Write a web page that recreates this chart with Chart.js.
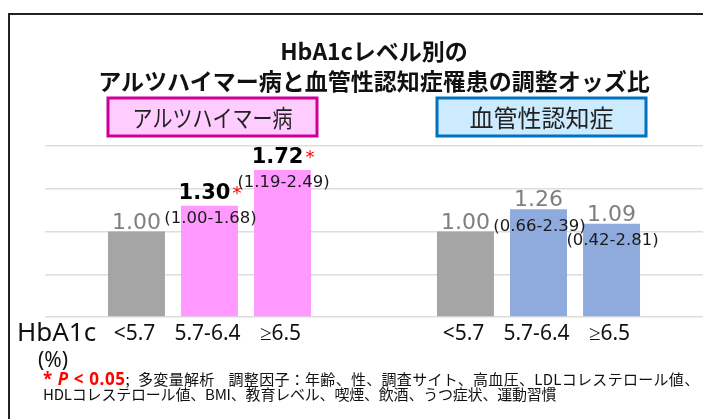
<!DOCTYPE html>
<html>
<head>
<meta charset="utf-8">
<script src="https://cdn.jsdelivr.net/npm/chart.js@4"></script>
<style>
    body { margin: 0; background: #fff; font-family: "Noto Sans CJK JP", "Noto Sans", sans-serif; }
    #wrap { position: relative; width: 703px; height: 419px; overflow: hidden; }
    #frame { position: absolute; left: 8px; top: 13px; width: 760px; height: 460px; border-left: 2px solid #222; border-top: 2px solid #222; }
    canvas { position: absolute; left: 0; top: 0; }
    .t { position: absolute; white-space: nowrap; color: #111; }
    #title1, #title2 { left: 0; width: 748px; text-align: center; font-weight: bold; font-size: 23px; line-height: 28px; }
    #title1 { top: 36px; }
    #title2 { top: 66px; }
    #hba1c { left: 17px; top: 315px; font-family: "Noto Sans", sans-serif; font-size: 26px; line-height: 32px; }
    #pct { left: 38px; top: 346px; font-family: "Noto Sans", sans-serif; font-size: 21px; line-height: 26px; }
    #note1, #note2 { left: 43px; font-size: 15px; line-height: 16px; height: 16px; }
    #note1 { top: 371px; letter-spacing: 0.3px; }
    #note2 { top: 386px; letter-spacing: -0.2px; }
    .sig { color: #f00; font-weight: bold; font-size: 17px; line-height: 16px; letter-spacing: 0.6px; font-family: "Noto Sans", sans-serif; }
    .gap { display: inline-block; width: 14px; }
    .gap2 { display: inline-block; width: 8px; }
</style>
</head>
<body>
<div id="wrap">
    <div id="frame"></div>
    <canvas id="chart" width="703" height="419"></canvas>
    <div class="t" id="title1">HbA1cレベル別の</div>
    <div class="t" id="title2">アルツハイマー病と血管性認知症罹患の調整オッズ比</div>
    <div class="t" id="hba1c">HbA1c</div>
    <div class="t" id="pct">(%)</div>
    <div class="t" id="note1"><span class="sig">* <i>P</i> &lt; 0.05</span>;<span class="gap2"></span>多変量解析<span class="gap"></span>調整因子：年齢、性、調査サイト、高血圧、LDLコレステロール値、</div>
    <div class="t" id="note2">HDLコレステロール値、BMI、教育レベル、喫煙、飲酒、うつ症状、運動習慣</div>
</div>
<script>
// Data
const groups = ['アルツハイマー病', '血管性認知症'];
const levels = ['<5.7', '5.7-6.4', '≥6.5'];
const oddsRef = [1.00, 1.00];
const oddsMid = [1.30, 1.26];
const oddsHigh = [1.72, 1.09];
const ciMid = ['(1.00-1.68)', '(0.66-2.39)'];
const ciHigh = ['(1.19-2.49)', '(0.42-2.81)'];
const sigMid = [true, false];
const sigHigh = [true, false];
const yTicks = [0, 0.5, 1, 1.5, 2];

const groupColors = ['#FF99FF', '#8FAADC'];
const boxStyle = [
    { fill: '#FFCCFF', stroke: '#CC0099' },
    { fill: '#CDEBFF', stroke: '#0070C0' }
];

const seriesVals = [oddsRef, oddsMid, oddsHigh];
const seriesCI = [null, ciMid, ciHigh];
const seriesSig = [[false, false], sigMid, sigHigh];

// Labels, boxes and asterisks drawn on top of the bars
const labelPlugin = {
    id: 'labels',
    afterDatasetsDraw(chart) {
        const ctx = chart.ctx;
        const xScale = chart.scales.x;
        ctx.save();

        // disease boxes above each group
        groups.forEach((g, j) => {
            const cx = xScale.getPixelForValue(j) + 3;
            const w = 209, h = 38, top = 98;
            ctx.fillStyle = boxStyle[j].fill;
            ctx.fillRect(cx - w / 2, top, w, h);
            ctx.strokeStyle = boxStyle[j].stroke;
            ctx.lineWidth = 3;
            ctx.strokeRect(cx - w / 2, top, w, h);
            ctx.fillStyle = '#222';
            ctx.font = '24px "Noto Sans CJK JP"';
            ctx.textAlign = 'center';
            ctx.textBaseline = 'middle';
            ctx.fillText(g, cx, top + h / 2 + 1, 160);
        });

        seriesVals.forEach((vals, i) => {
            const meta = chart.getDatasetMeta(i);
            meta.data.forEach((bar, j) => {
                const x = bar.x;
                const top = bar.y;
                const txt = vals[j].toFixed(2);
                const sig = seriesSig[i][j];
                let base;
                ctx.textBaseline = 'alphabetic';
                if (sig) {
                    base = top - 7;
                    ctx.font = 'bold 21px "DejaVu Sans"';
                    const w1 = ctx.measureText(txt).width;
                    ctx.font = '18px "DejaVu Sans"';
                    const w2 = ctx.measureText('*').width;
                    const left = x - (w1 + w2 + 3) / 2 + 1;
                    ctx.textAlign = 'left';
                    ctx.fillStyle = '#000';
                    ctx.font = 'bold 21px "DejaVu Sans"';
                    ctx.fillText(txt, left, base);
                    ctx.fillStyle = '#FF0000';
                    ctx.font = '18px "DejaVu Sans"';
                    ctx.fillText('*', left + w1 + 2, base);
                } else {
                    base = top - 3;
                    ctx.textAlign = 'center';
                    ctx.fillStyle = '#7F7F7F';
                    ctx.font = '22px "DejaVu Sans"';
                    ctx.fillText(txt, x, base);
                }
                if (seriesCI[i]) {
                    ctx.textAlign = 'center';
                    ctx.textBaseline = 'middle';
                    ctx.fillStyle = '#1a1a1a';
                    ctx.font = '16.5px "DejaVu Sans"';
                    ctx.fillText(seriesCI[i][j], x + 1, base + 20);
                }
                // HbA1c level under each bar
                ctx.textAlign = 'center';
                ctx.textBaseline = 'middle';
                ctx.fillStyle = '#111';
                ctx.font = '21px "Noto Sans"';
                ctx.fillText(levels[i], x - 2, 334);
            });
        });
        ctx.restore();
    }
};

const ctx = document.getElementById('chart').getContext('2d');
const chart = new Chart(ctx, {
    type: 'bar',
    data: {
        labels: groups,
        datasets: levels.map((lv, i) => ({
            label: lv,
            data: seriesVals[i],
            backgroundColor: i === 0 ? '#A5A5A5' : groupColors,
            borderWidth: 0,
            categoryPercentage: 0.666,
            barPercentage: 0.78
        }))
    },
    options: {
        responsive: false,
        animation: false,
        devicePixelRatio: 1,
        layout: {
            padding: { left: 45, right: 0, top: 146, bottom: 102 }
        },
        plugins: {
            legend: { display: false },
            tooltip: { enabled: false }
        },
        scales: {
            x: { display: false },
            y: {
                min: 0,
                max: 2,
                afterBuildTicks: (scale) => { scale.ticks = yTicks.map(v => ({ value: v })); },
                ticks: { display: false },
                grid: { color: '#DDDDDD', lineWidth: 1.5, drawTicks: false },
                border: { display: false }
            }
        }
    },
    plugins: [labelPlugin]
});
</script>
</body>
</html>
